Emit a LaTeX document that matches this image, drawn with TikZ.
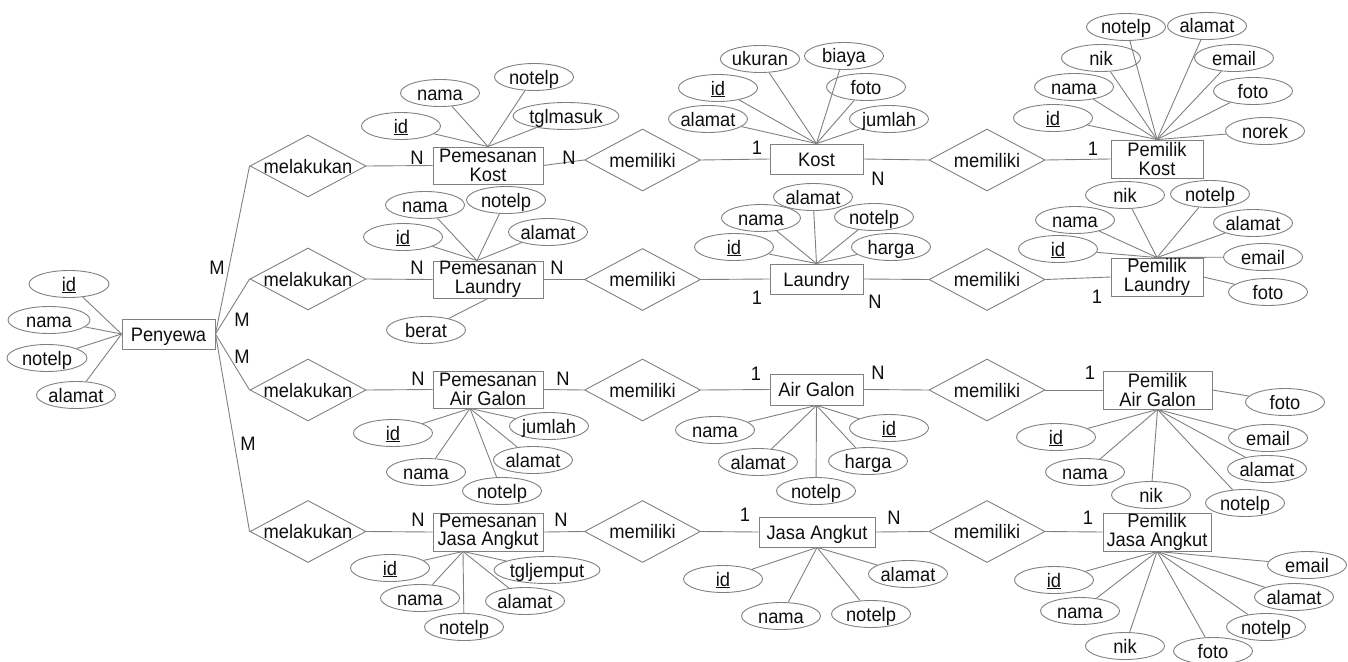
\documentclass[tikz,border=0pt]{standalone}
\usepackage{fontspec}
\setmainfont{Liberation Sans}[FakeStretch=0.94]
\usetikzlibrary{shapes.geometric}
\definecolor{edgegray}{RGB}{128,128,128}
\definecolor{inkdark}{RGB}{15,15,15}

\begin{document}
\begin{tikzpicture}[x=1pt,y=-1pt,
  every node/.style={font=\fontsize{19.5}{18.5}\selectfont, text=inkdark},
  conn/.style={draw=edgegray, line width=0.9pt},
  ent/.style={rectangle, draw=edgegray, line width=0.9pt, inner sep=0pt, text height=14pt, text depth=0pt},
  ent2/.style={rectangle, draw=edgegray, line width=0.9pt, inner sep=0pt, align=center},
  rel/.style={diamond, draw=edgegray, line width=0.9pt, inner sep=0pt, shape aspect=1.87,
              minimum width=116pt, minimum height=62pt, text height=14pt, text depth=0pt},
  attr/.style={ellipse, draw=edgegray, line width=0.9pt, inner sep=0pt, minimum width=79pt,
               minimum height=27pt, text height=14pt, text depth=0pt},
  card/.style={inner sep=0pt, text height=14pt, text depth=0pt},
]
\useasboundingbox (0,0) rectangle (1348,661);

% ---------- Penyewa ----------
\node[ent, minimum width=93pt, minimum height=30pt] (pen) at (168.5,334) {Penyewa};
\node[attr, minimum width=80pt] (penId) at (69,284) {\underline{id}};
\node[attr, minimum width=82pt] (penNama) at (49,320) {nama};
\node[attr, minimum width=80pt] (penTelp) at (47,358) {notelp};
\node[attr] (penAlamat) at (76,395) {alamat};
\foreach \a in {penId,penNama,penTelp,penAlamat} \draw[conn] (\a) -- (pen.west);

% ---------- melakukan ----------
\node[rel] (mk1) at (308,166) {melakukan};
\node[rel] (mk2) at (308,279) {melakukan};
\node[rel] (mk3) at (308,390) {melakukan};
\node[rel] (mk4) at (308,531.5) {melakukan};

% ---------- Pemesanan ----------
\node[ent2, minimum width=110pt, minimum height=37pt] (pk) at (488,165.5) {Pemesanan\\Kost};
\node[ent2, minimum width=110pt, minimum height=37pt] (pl) at (488,279.5) {Pemesanan\\Laundry};
\node[ent2, minimum width=110pt, minimum height=37pt] (pa) at (488,389.5) {Pemesanan\\Air Galon};
\node[ent2, minimum width=110pt, minimum height=38pt] (pj) at (488,532) {Pemesanan\\Jasa Angkut};

% ---------- memiliki (left column) ----------
\node[rel] (mm1) at (642.5,160) {memiliki};
\node[rel] (mm2) at (642.5,279.5) {memiliki};
\node[rel] (mm3) at (642.5,390) {memiliki};
\node[rel] (mm4) at (642.5,531.5) {memiliki};

% ---------- services ----------
\node[ent, minimum width=93pt, minimum height=30pt] (kost) at (816.5,159) {Kost};
\node[ent, minimum width=93pt, minimum height=30pt] (laundry) at (816.5,279) {Laundry};
\node[ent, minimum width=93pt, minimum height=31pt] (airgalon) at (816.5,389.5) {Air Galon};
\node[ent, minimum width=116pt, minimum height=30pt] (jasa) at (817,532) {Jasa Angkut};

% ---------- memiliki (right column) ----------
\node[rel] (mn1) at (987,160) {memiliki};
\node[rel] (mn2) at (987,279.5) {memiliki};
\node[rel] (mn3) at (987,390) {memiliki};
\node[rel] (mn4) at (987,531.5) {memiliki};

% ---------- owners ----------
\node[ent2, minimum width=92pt, minimum height=38pt] (pmk) at (1157,159) {Pemilik\\Kost};
\node[ent2, minimum width=92pt, minimum height=38pt] (pml) at (1157,277) {Pemilik\\Laundry};
\node[ent2, minimum width=109pt, minimum height=38pt] (pma) at (1157.5,390) {Pemilik\\Air Galon};
\node[ent2, minimum width=108pt, minimum height=38pt] (pmj) at (1157,532) {Pemilik\\Jasa Angkut};

% ---------- relationship lines ----------
\foreach \r/\p/\m/\s/\n/\o in {mk1/pk/mm1/kost/mn1/pmk, mk2/pl/mm2/laundry/mn2/pml,
                               mk3/pa/mm3/airgalon/mn3/pma, mk4/pj/mm4/jasa/mn4/pmj}{
  \draw[conn] (pen.east) -- (\r.west);
  \draw[conn] (\r.east) -- (\p.west);
  \draw[conn] (\p.east) -- (\m.west);
  \draw[conn] (\m.east) -- (\s.west);
  \draw[conn] (\s.east) -- (\n.west);
  \draw[conn] (\n.east) -- (\o.west);
}

% ---------- cardinalities ----------
\node[card] (cM1) at (217,267) {M};
\node[card] (cM2) at (242,319) {M};
\node[card] (cM3) at (242,356) {M};
\node[card] (cM4) at (248,443) {M};

\node[card] (c1a) at (417,157) {N};
\node[card] (c1b) at (569,157) {N};
\node[card] (c1c) at (757,147) {1};
\node[card] (c1d) at (878,178) {N};
\node[card] (c1e) at (1093,148) {1};

\node[card] (c2a) at (417,267) {N};
\node[card] (c2b) at (557,267) {N};
\node[card] (c2c) at (757,297) {1};
\node[card] (c2d) at (875,301) {N};
\node[card] (c2e) at (1097,296) {1};

\node[card] (c3a) at (418,378) {N};
\node[card] (c3b) at (563,378) {N};
\node[card] (c3c) at (756,373) {1};
\node[card] (c3d) at (878,372) {N};
\node[card] (c3e) at (1090,372) {1};

\node[card] (c4a) at (418,519) {N};
\node[card] (c4b) at (561,519) {N};
\node[card] (c4c) at (745,514) {1};
\node[card] (c4d) at (894,517) {N};
\node[card] (c4e) at (1088,517) {1};

% ---------- Pemesanan Kost attributes ----------
\node[attr] (pkNama) at (440,93) {nama};
\node[attr] (pkTelp) at (534,77) {notelp};
\node[attr] (pkId) at (401,126) {\underline{id}};
\node[attr, minimum width=106pt] (pkTgl) at (566,116) {tglmasuk};
\foreach \a in {pkNama,pkTelp,pkId,pkTgl} \draw[conn] (\a) -- (pk.north);

% ---------- Pemesanan Laundry attributes ----------
\node[attr] (plNama) at (425,205) {nama};
\node[attr] (plTelp) at (506,200) {notelp};
\node[attr] (plAlamat) at (548,232) {alamat};
\node[attr] (plId) at (403,237) {\underline{id}};
\node[attr] (plBerat) at (426,330) {berat};
\foreach \a in {plNama,plTelp,plAlamat,plId} \draw[conn] (\a) -- ([xshift=-11pt]pl.north);
\draw[conn] (plBerat) -- (pl.south);

% ---------- Pemesanan Air Galon attributes ----------
\node[attr] (paId) at (393,433) {\underline{id}};
\node[attr] (paJumlah) at (549,426) {jumlah};
\node[attr] (paNama) at (426,472) {nama};
\node[attr] (paAlamat) at (533,460) {alamat};
\node[attr] (paTelp) at (502,491) {notelp};
\foreach \a in {paId,paJumlah,paNama,paAlamat,paTelp} \draw[conn] (\a) -- ([xshift=-18pt]pa.south);

% ---------- Pemesanan Jasa Angkut attributes ----------
\node[attr] (pjId) at (390,568) {\underline{id}};
\node[attr, minimum width=106pt] (pjTgl) at (547,570) {tgljemput};
\node[attr] (pjNama) at (420,598) {nama};
\node[attr] (pjAlamat) at (525,601) {alamat};
\node[attr] (pjTelp) at (464,627) {notelp};
\foreach \a in {pjId,pjTgl,pjNama,pjAlamat,pjTelp} \draw[conn] (\a) -- ([xshift=-25pt]pj.south);

% ---------- Kost attributes ----------
\node[attr] (kUkuran) at (760,59) {ukuran};
\node[attr] (kBiaya) at (844,56) {biaya};
\node[attr] (kId) at (718,88) {\underline{id}};
\node[attr] (kFoto) at (866,87) {foto};
\node[attr] (kAlamat) at (708,119) {alamat};
\node[attr] (kJumlah) at (889,119) {jumlah};
\foreach \a in {kUkuran,kBiaya,kId,kFoto,kAlamat,kJumlah} \draw[conn] (\a) -- (kost.north);

% ---------- Laundry attributes ----------
\node[attr] (lAlamat) at (813,197) {alamat};
\node[attr] (lNama) at (761,218) {nama};
\node[attr] (lTelp) at (874,217) {notelp};
\node[attr] (lId) at (734,247) {\underline{id}};
\node[attr] (lHarga) at (891,247) {harga};
\foreach \a in {lAlamat,lNama,lTelp,lId,lHarga} \draw[conn] (\a) -- (laundry.north);

% ---------- Air Galon attributes ----------
\node[attr] (gNama) at (715,430) {nama};
\node[attr] (gId) at (889,428) {\underline{id}};
\node[attr] (gAlamat) at (758,462) {alamat};
\node[attr] (gHarga) at (868,461) {harga};
\node[attr] (gTelp) at (816,491) {notelp};
\foreach \a in {gNama,gId,gAlamat,gHarga,gTelp} \draw[conn] (\a) -- (airgalon.south);

% ---------- Jasa Angkut attributes ----------
\node[attr] (jId) at (723,579) {\underline{id}};
\node[attr] (jNama) at (781,616) {nama};
\node[attr] (jAlamat) at (908,574) {alamat};
\node[attr] (jTelp) at (871,614) {notelp};
\foreach \a in {jId,jNama,jAlamat,jTelp} \draw[conn] (\a) -- (jasa.south);

% ---------- Pemilik Kost attributes ----------
\node[attr] (mkTelp) at (1126,27) {notelp};
\node[attr] (mkAlamat) at (1207,26) {alamat};
\node[attr] (mkNik) at (1101,58) {nik};
\node[attr] (mkEmail) at (1234,58) {email};
\node[attr] (mkNama) at (1074,87) {nama};
\node[attr] (mkFoto) at (1253,91) {foto};
\node[attr] (mkId) at (1053,118) {\underline{id}};
\node[attr] (mkNorek) at (1265,131) {norek};
\foreach \a in {mkTelp,mkAlamat,mkNik,mkEmail,mkNama,mkFoto,mkId,mkNorek} \draw[conn] (\a) -- (pmk.north);

% ---------- Pemilik Laundry attributes ----------
\node[attr] (mlNik) at (1125,195) {nik};
\node[attr] (mlTelp) at (1210,194) {notelp};
\node[attr] (mlNama) at (1075,220) {nama};
\node[attr] (mlAlamat) at (1253,223) {alamat};
\node[attr] (mlId) at (1058,249) {\underline{id}};
\node[attr] (mlEmail) at (1263,257) {email};
\node[attr] (mlFoto) at (1268,292) {foto};
\foreach \a in {mlNik,mlTelp,mlNama,mlAlamat,mlId,mlEmail} \draw[conn] (\a) -- (pml.north);
\draw[conn] (mlFoto) -- (pml.east);

% ---------- Pemilik Air Galon attributes ----------
\node[attr] (maFoto) at (1285,402) {foto};
\node[attr] (maId) at (1056,437) {\underline{id}};
\node[attr] (maEmail) at (1268,438) {email};
\node[attr] (maNama) at (1085,472) {nama};
\node[attr] (maAlamat) at (1267,469) {alamat};
\node[attr] (maNik) at (1151,495) {nik};
\node[attr] (maTelp) at (1245,503) {notelp};
\foreach \a in {maId,maEmail,maNama,maAlamat,maNik,maTelp} \draw[conn] (\a) -- (pma.south);
\draw[conn] (maFoto) -- (pma.east);

% ---------- Pemilik Jasa Angkut attributes ----------
\node[attr] (mjEmail) at (1307,565) {email};
\node[attr] (mjId) at (1054,580) {\underline{id}};
\node[attr] (mjAlamat) at (1294,597) {alamat};
\node[attr] (mjNama) at (1080,611) {nama};
\node[attr] (mjTelp) at (1266,627) {notelp};
\node[attr] (mjNik) at (1125,646) {nik};
\node[attr] (mjFoto) at (1213,651) {foto};
\foreach \a in {mjEmail,mjId,mjAlamat,mjNama,mjTelp,mjNik,mjFoto} \draw[conn] (\a) -- (pmj.south);

\end{tikzpicture}
\end{document}
